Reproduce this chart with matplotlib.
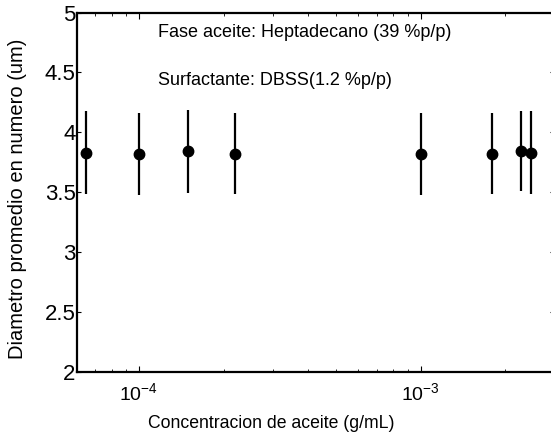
import numpy as np
import matplotlib.pyplot as plt
from matplotlib.ticker import FormatStrFormatter, LogLocator, NullFormatter

plt.rcParams['font.family'] = ['Liberation Sans', 'DejaVu Sans']
plt.rcParams['mathtext.default'] = 'regular'

# concentracion de aceite (g/mL) y diametro promedio (um)
conc = [6.5e-5, 1.0e-4, 1.5e-4, 2.19e-4, 1.0e-3, 1.79e-3, 2.28e-3, 2.47e-3]
diam = [3.83, 3.82, 3.846, 3.82, 3.82, 3.82, 3.846, 3.83]
err_low = [0.345, 0.343, 0.35, 0.335, 0.343, 0.335, 0.336, 0.345]
err_up = [0.35, 0.34, 0.344, 0.34, 0.34, 0.34, 0.334, 0.35]

fig = plt.figure(figsize=(5.51, 4.41), dpi=100)
ax = fig.add_axes([0.1397, 0.1565, 0.866, 0.815])

ax.errorbar(conc, diam, yerr=[err_low, err_up], fmt='o', color='k',
            markersize=7.5, elinewidth=1.6, capsize=0)

ax.set_xscale('log')
ax.set_xlim(6.03e-5, 2.98e-3)
ax.set_ylim(2, 5)
ax.set_yticks(np.arange(2, 5.01, 0.5))
ax.yaxis.set_major_formatter(FormatStrFormatter('%g'))
ax.xaxis.set_minor_locator(LogLocator(base=10, subs=np.arange(2, 10)))
ax.xaxis.set_minor_formatter(NullFormatter())

ax.tick_params(axis='both', which='both', direction='in', top=True, right=True)
ax.tick_params(axis='y', which='major', length=3, width=0.8, labelsize=16, pad=1)
ax.tick_params(axis='x', which='major', length=4, width=0.8, labelsize=14, pad=7)
ax.tick_params(axis='x', which='minor', length=2.5, width=0.6)
for s in ax.spines.values():
    s.set_linewidth(1.6)

ax.set_xlabel('Concentracion de aceite (g/mL)', fontsize=12.7)
ax.set_ylabel('Diametro promedio en numero (um)', fontsize=14.5)
ax.xaxis.set_label_coords(0.407, -0.12)
ax.yaxis.set_label_coords(-0.105, 0.481)

ax.text(0.1705, 0.931, 'Fase aceite: Heptadecano (39 %p/p)', transform=ax.transAxes,
        fontsize=13, va='baseline', ha='left')
ax.text(0.1705, 0.799, 'Surfactante: DBSS(1.2 %p/p)', transform=ax.transAxes,
        fontsize=13, va='baseline', ha='left')

fig.savefig('out.png', dpi=100)
